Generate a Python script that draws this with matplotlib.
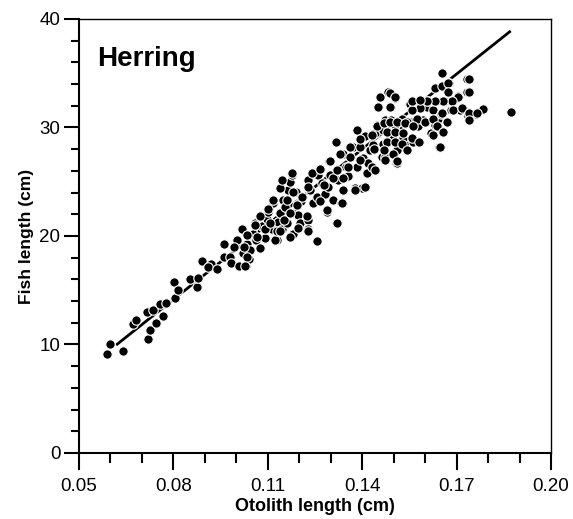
import matplotlib
matplotlib.use("Agg")
import matplotlib.pyplot as plt
import numpy as np

plt.rcParams['font.family'] = ['Liberation Sans', 'DejaVu Sans']

# otolith length (cm) / fish length (cm)
otolith = [
    0.059, 0.060, 0.064, 0.067, 0.068, 0.072, 0.0725, 0.0715, 0.0734, 0.0745,
    0.0757, 0.0766, 0.0776, 0.0805, 0.0803, 0.0815, 0.0853, 0.0874, 0.0879, 0.0890,
    0.0919, 0.0911, 0.0939, 0.0961, 0.0961, 0.0980, 0.0982, 0.1001, 0.0992, 0.1009,
    0.1030, 0.1041, 0.1022, 0.1017, 0.1033, 0.1043, 0.1054, 0.1064, 0.1059, 0.1075,
    0.1080, 0.1091, 0.1096, 0.1101, 0.1112, 0.1117, 0.1128, 0.1133, 0.1144, 0.1139,
    0.1149, 0.1154, 0.1160, 0.1165, 0.1170, 0.1176, 0.1181, 0.1181, 0.1191, 0.1197,
    0.1202, 0.1207, 0.1229, 0.1229, 0.1229, 0.1234, 0.1244, 0.1255, 0.1257, 0.1261,
    0.1266, 0.1271, 0.1282, 0.1287, 0.1292, 0.1295, 0.1297, 0.1308, 0.1319, 0.1316,
    0.1324, 0.1334, 0.1340, 0.1340, 0.1350, 0.1356, 0.1361, 0.1372, 0.1377, 0.1382,
    0.1382, 0.1393, 0.1398, 0.1403, 0.1409, 0.1414, 0.1419, 0.1425, 0.1430, 0.1435,
    0.1440, 0.1446, 0.1451, 0.1456, 0.1462, 0.1467, 0.1472, 0.1477, 0.1483, 0.1488,
    0.1493, 0.1499, 0.1504, 0.1507, 0.1509, 0.1520, 0.1525, 0.1530, 0.1536, 0.1552,
    0.1557, 0.1573, 0.1578, 0.1583, 0.1594, 0.1605, 0.1610, 0.1620, 0.1626, 0.1631,
    0.1636, 0.1642, 0.1645, 0.1652, 0.1655, 0.1663, 0.1668, 0.1673, 0.1677, 0.1681,
    0.1689, 0.1705, 0.1711, 0.1732, 0.1734, 0.1737, 0.1763, 0.1785, 0.1873,
    # denser middle band
    0.1176, 0.1139, 0.1118, 0.1102, 0.1076, 0.1060, 0.1033, 0.1023, 0.1033, 0.1028,
    0.1065, 0.1091, 0.1123, 0.1128, 0.1150, 0.1171, 0.1192, 0.1208, 0.1229, 0.1240,
    0.1266, 0.1298, 0.1330, 0.1361, 0.1393, 0.1430, 0.1467, 0.1504, 0.1542, 0.1563,
    0.1510, 0.1473, 0.1441, 0.1409, 0.1377, 0.1335, 0.1287, 0.1266, 0.1224, 0.1197,
    0.1229, 0.1171, 0.1139, 0.1107, 0.1160, 0.1181, 0.1144, 0.1277, 0.1308, 0.1340,
    0.1356, 0.1319, 0.1393, 0.1436, 0.1478, 0.1446, 0.1499, 0.1531, 0.1510,
    # upper band
    0.1632, 0.1653, 0.1674, 0.1674, 0.1738, 0.1738, 0.1706, 0.1685, 0.1658, 0.1632,
    0.1605, 0.1584, 0.1552, 0.1558, 0.1574, 0.1600, 0.1626, 0.1653, 0.1669, 0.1637,
    0.1626, 0.1658, 0.1648, 0.1690, 0.1716, 0.1738, 0.1738, 0.1764, 0.1468, 0.1489,
    0.1510, 0.1536, 0.1563, 0.1478, 0.1505, 0.1531, 0.1558, 0.1579, 0.1478, 0.1505,
    0.1526, 0.1468, 0.1499, 0.1542, 0.1510, 0.1473, 0.1487, 0.1505, 0.1487, 0.1558,
    0.1584,
]
fish = [
    9.1, 10.0, 9.4, 11.9, 12.3, 10.5, 11.3, 13.0, 13.2, 12.0,
    13.7, 12.6, 13.8, 14.3, 15.8, 15.0, 16.0, 15.3, 16.1, 17.7,
    17.4, 17.1, 17.0, 18.1, 19.3, 18.1, 17.5, 19.6, 19.0, 17.2,
    17.2, 17.9, 18.4, 20.6, 19.3, 18.7, 20.2, 19.6, 21.2, 18.9,
    20.9, 19.8, 21.6, 22.2, 20.6, 23.0, 19.6, 21.3, 20.6, 22.1,
    23.3, 22.7, 21.2, 24.2, 25.0, 25.6, 20.2, 22.1, 24.1, 21.9,
    21.2, 23.2, 21.5, 20.6, 25.2, 24.2, 23.0, 23.6, 19.5, 25.6,
    26.2, 24.9, 23.9, 22.2, 24.5, 26.9, 25.6, 23.3, 21.2, 28.7,
    25.2, 23.0, 24.2, 27.6, 26.4, 25.5, 27.3, 28.2, 24.4, 29.8,
    26.4, 28.2, 24.4, 27.2, 29.2, 25.8, 26.7, 27.9, 26.4, 28.4,
    29.5, 30.2, 31.9, 32.8, 27.3, 28.5, 30.7, 29.9, 33.3, 31.9,
    30.7, 29.2, 32.7, 26.7, 28.2, 30.2, 30.8, 29.3, 28.7, 32.2,
    30.5, 28.7, 30.1, 31.8, 30.7, 31.9, 32.4, 29.5, 31.6, 30.2,
    32.4, 30.8, 28.2, 31.2, 35.0, 32.4, 30.5, 33.3, 34.1, 31.6,
    32.4, 32.9, 31.6, 34.5, 33.3, 31.1, 31.2, 31.7, 31.4,
    25.8, 24.4, 23.3, 22.5, 21.8, 21.0, 20.1, 19.0, 18.1, 17.2,
    19.9, 20.6, 19.6, 20.5, 21.5, 22.1, 22.9, 23.6, 24.5, 25.8,
    26.2, 26.9, 27.6, 28.2, 28.9, 29.3, 29.8, 30.2, 30.5, 28.7,
    26.7, 27.3, 26.1, 24.5, 24.2, 23.0, 22.4, 23.2, 21.8, 20.7,
    20.5, 19.9, 20.5, 21.2, 23.3, 24.1, 25.2, 24.7, 25.3, 25.3,
    26.4, 26.1, 27.0, 28.0, 28.8, 30.1, 29.3, 29.0, 27.9,
    33.6, 33.8, 34.1, 33.3, 34.5, 33.3, 32.8, 32.4, 32.4, 32.4,
    32.4, 31.8, 32.2, 31.6, 30.8, 30.5, 30.8, 31.3, 30.5, 30.1,
    29.3, 29.6, 28.2, 31.6, 31.8, 31.3, 30.7, 31.3, 30.4, 30.5,
    30.5, 30.4, 30.1, 29.6, 29.6, 29.5, 29.0, 28.7, 28.7, 28.7,
    28.5, 27.9, 27.6, 27.9, 26.9, 27.0, 33.2, 32.8, 31.9, 32.4,
    32.5,
]

# regression line end points
fit_x = [0.0618, 0.1872]
fit_y = [9.95, 38.9]

x_ticks = [0.05, 0.08, 0.11, 0.14, 0.17, 0.20]
x_labels = ['0.05', '0.08', '0.11', '0.14', '0.17', '0.20']
y_ticks = [0, 10, 20, 30, 40]

fig = plt.figure(figsize=(5.73, 5.19), dpi=100)
ax = fig.add_axes([0.1379, 0.1272, 0.8237, 0.8362])

ax.plot(fit_x, fit_y, color='black', lw=2.0, zorder=2, solid_capstyle='butt')
ax.scatter(otolith, fish, s=46, c='black', edgecolors='white', linewidths=0.8, zorder=3)

ax.set_xlim(0.05, 0.20)
ax.set_ylim(0, 40)
ax.set_xticks(x_ticks)
ax.set_xticklabels(x_labels)
ax.set_xticks(np.arange(0.05, 0.2001, 0.01), minor=True)
ax.set_yticks(y_ticks)
ax.set_yticks(np.arange(0, 40.1, 2), minor=True)

ax.tick_params(axis='x', which='major', length=12, width=1.5, labelsize=13.5, pad=6)
ax.tick_params(axis='x', which='minor', length=7, width=1.5)
ax.tick_params(axis='y', which='major', length=10.5, width=1.5, labelsize=13.5, pad=3)
ax.tick_params(axis='y', which='minor', length=6, width=1.5)

for side in ['left', 'bottom']:
    ax.spines[side].set_linewidth(1.5)
for side in ['top', 'right']:
    ax.spines[side].set_linewidth(1.0)

ax.set_xlabel('Otolith length (cm)', fontsize=13, fontweight='bold', labelpad=2)
ax.set_ylabel('Fish length (cm)', fontsize=12.5, fontweight='bold', labelpad=4)

ax.text(0.038, 0.908, 'Herring', transform=ax.transAxes, fontsize=20,
        fontweight='bold', va='center', ha='left')

fig.savefig('out.png', dpi=100)
